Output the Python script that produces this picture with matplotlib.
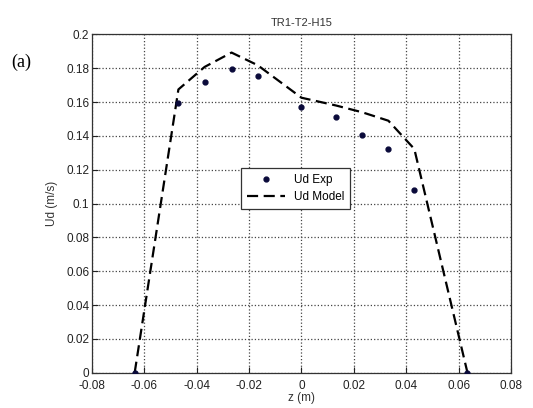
import matplotlib
matplotlib.use('Agg')
import matplotlib.pyplot as plt

# experimental points
z_exp = [-0.0637, -0.047, -0.037, -0.0267, -0.0167, 0.0, 0.0132, 0.0232, 0.0332, 0.0431, 0.0634]
ud_exp = [0.0, 0.1594, 0.172, 0.1794, 0.1752, 0.157, 0.1511, 0.1404, 0.1323, 0.1081, 0.0]

# model line
z_mod = [-0.0637, -0.047, -0.037, -0.0267, -0.0167, 0.0, 0.0132, 0.0232, 0.0332, 0.0431, 0.0634]
ud_mod = [0.0, 0.1675, 0.1808, 0.1893, 0.1818, 0.1626, 0.158, 0.154, 0.149, 0.1323, 0.0]

xticks = [-0.08, -0.06, -0.04, -0.02, 0, 0.02, 0.04, 0.06, 0.08]
xlabels = ['-0.08', '-0.06', '-0.04', '-0.02', '0', '0.02', '0.04', '0.06', '0.08']
yticks = [0, 0.02, 0.04, 0.06, 0.08, 0.1, 0.12, 0.14, 0.16, 0.18, 0.2]
ylabels = ['0', '0.02', '0.04', '0.06', '0.08', '0.1', '0.12', '0.14', '0.16', '0.18', '0.2']

plt.rcParams['font.family'] = ['Liberation Sans', 'DejaVu Sans']

fig = plt.figure(figsize=(5.33, 4.08), dpi=100)
ax = fig.add_axes([0.1726, 0.0865, 0.786, 0.829])

ax.plot(z_exp, ud_exp, 'o', color='#0a0a3a', markersize=3.5, label='Ud Exp', zorder=3)
ax.plot(z_mod, ud_mod, '--', color='black', lw=1.6, dashes=(5, 2.5), label='Ud Model', zorder=2)

ax.set_xlim(-0.08, 0.08)
ax.set_ylim(0, 0.2)
ax.set_xticks(xticks)
ax.set_xticklabels(xlabels)
ax.set_yticks(yticks)
ax.set_yticklabels(ylabels)
ax.tick_params(direction='in', length=4, labelsize=8.5, colors='#222222')
ax.tick_params(axis='x', pad=5)
ax.tick_params(axis='y', pad=2)
ax.grid(True, linestyle=':', color='#444444', lw=0.9)
for s in ax.spines.values():
    s.set_color('#333333')
    s.set_linewidth(0.9)

ax.set_title('TR1-T2-H15', fontsize=8, color='#333333', pad=6)
ax.set_xlabel('z (m)', fontsize=8.5, color='#333333', labelpad=0)
ax.set_ylabel('Ud (m/s)', fontsize=8.5, color='#333333', labelpad=6)

leg = ax.legend(loc='center', bbox_to_anchor=(0.486, 0.545), fontsize=8.5,
                fancybox=False, edgecolor='#333333', framealpha=1,
                handlelength=3.2, borderpad=0.5, labelspacing=0.4)
leg.get_frame().set_linewidth(0.9)

fig.text(0.022, 0.835, '(a)', fontsize=13, family='Liberation Serif')

fig.savefig('out.png', dpi=100)
